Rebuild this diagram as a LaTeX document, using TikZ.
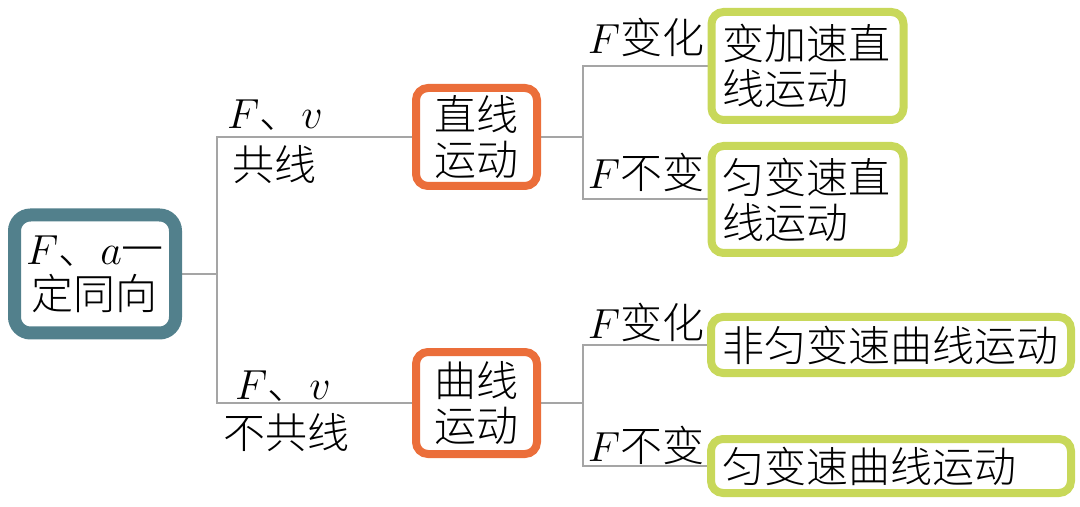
\RequirePackage{fix-cm}
\documentclass[tikz,border=0pt]{standalone}
\usepackage{fontspec}
\setmainfont{Noto Sans CJK SC}[UprightFont=* Light]
\usepackage{xcolor}
\usepackage{tikz}
\usetikzlibrary{calc,backgrounds}
\definecolor{QingLan}{RGB}{82,128,140}
\definecolor{JuHong}{RGB}{235,110,58}
\definecolor{CaoLv}{RGB}{200,216,90}
\definecolor{HuiXian}{RGB}{165,165,165}

\tikzset{
  rootbox/.style={draw=QingLan,line width=6.5pt,rounded corners=8pt,fill=white,inner sep=0pt,align=center},
  motionbox/.style={draw=JuHong,line width=4pt,rounded corners=6pt,fill=white,inner sep=0pt,align=center},
  resultbox/.style={draw=CaoLv,line width=4pt,rounded corners=6pt,fill=white,inner xsep=5.5pt,inner ysep=0pt,align=left},
  branch/.style={draw=HuiXian,line width=1pt},
  tag/.style={inner sep=0pt}
}

\begin{document}
\begin{tikzpicture}[x=0.5pt,y=-0.5pt,font=\fontsize{21}{22.5}\selectfont]
  \useasboundingbox (0,0) rectangle (1080,507);

  % 根节点
  \node[rootbox,minimum width=80.5pt,minimum height=59pt] (root) at (95,274) {$F$、$a$一\\定同向};

  % 直线运动 / 曲线运动
  \node[motionbox,minimum width=60.5pt,minimum height=49pt] (line) at (476.5,137) {直线\\运动};
  \node[motionbox,minimum width=60.5pt,minimum height=51pt] (curve) at (476.5,403) {曲线\\运动};

  % 运动形式
  \node[resultbox,text width=85pt,minimum height=54pt] (varline) at (807.5,66) {变加速直\\线运动};
  \node[resultbox,text width=85pt,minimum height=53.5pt] (uniline) at (807.5,199.5) {匀变速直\\线运动};
  \node[resultbox,text width=169pt,minimum height=28pt] (varcurve) at (891,345) {非匀变速曲线运动};
  \node[resultbox,text width=169pt,minimum height=27pt] (unicurve) at (891,466) {匀变速曲线运动};

  % 条件
  \node[tag] (fv1) at (275,115) {$F$、$v$};
  \node[tag] (gx1) at (274,165) {共线};
  \node[tag] (fv2) at (283,386) {$F$、$v$};
  \node[tag] (gx2) at (286,433) {不共线};
  \node[tag] (fb1) at (646,37) {$F$变化};
  \node[tag] (fb2) at (646,172) {$F$不变};
  \node[tag] (fb3) at (646,322) {$F$变化};
  \node[tag] (fb4) at (646,445) {$F$不变};

  % 连线
  \coordinate (jl) at (217,274);
  \coordinate (jr) at (583,0);
  \begin{pgfonlayer}{background}
    \draw[branch] (root.east) -- (jl);
    \draw[branch] (line.west) -| (jl) |- (curve.west);
    \draw[branch] (line.east) -- (line.east -| jr);
    \draw[branch] (varline.west) -| (line.east -| jr) |- (uniline.west);
    \draw[branch] (curve.east) -- (curve.east -| jr);
    \draw[branch] (varcurve.west) -| (curve.east -| jr) |- (unicurve.west);
  \end{pgfonlayer}
\end{tikzpicture}
\end{document}
